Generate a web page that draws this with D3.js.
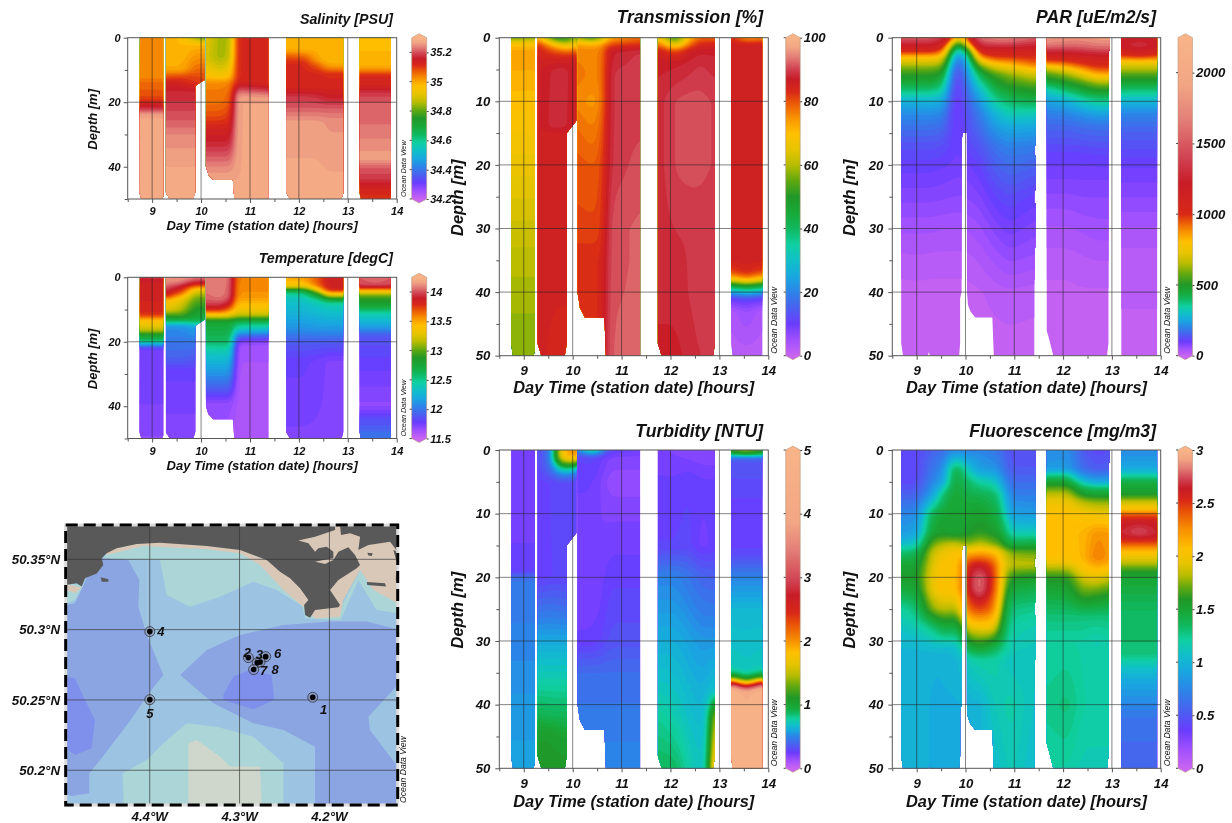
<!DOCTYPE html>
<html>
<head>
<meta charset="utf-8">
<script src="https://cdn.jsdelivr.net/npm/d3@7"></script>
<style>
  html, body { margin: 0; background: #fff; }
  svg { display: block; filter: blur(0.4px); }
  text { font-family: "Liberation Sans", Arial, sans-serif; font-weight: bold; font-style: italic; fill: #111; }
  .odv { font-weight: normal; }
</style>
</head>
<body>
<svg id="chart" width="1232" height="823"></svg>
<script>
// x axis and depth axis
var timeDomain = [8.5, 14];
var timeMajor = [9, 10, 11, 12, 13, 14];
var timeMinor = [8.5, 9.5, 10.5, 11.5, 12.5, 13.5];

// station block times, first group for the CTD plots, second for PAR / fluorescence
var timesA1 = [8.74, 9.23];
var timesA2 = [9.28, 9.6, 9.88, 10.08];
var timesA2t = [9.28, 9.6, 9.7, 9.98, 10.08];
var timesA3 = [10.09, 10.4, 10.62, 10.72, 11.38];
var timesA4 = [11.74, 12.1, 12.4, 12.6, 12.91];
var timesA4t = [11.74, 12.1, 12.4, 12.6, 12.8, 12.87, 12.91];
var timesA5 = [13.24, 13.55, 13.88];
var timesB1 = [8.68, 9.0, 9.3, 9.55, 9.72, 9.85, 10.03, 10.3, 10.6, 10.9, 11.44];
var timesB1f = [8.68, 9.0, 9.3, 9.55, 9.72, 9.85, 10.03, 10.3, 10.6, 10.75, 10.9, 11.44];
var timesB2 = [11.66, 12.1, 12.4, 12.7, 12.96];
var timesB3 = [13.19, 13.55, 13.93];

// coverage outlines [time, depth]
var outlineA1 = [[8.75,0],[9.23,0],[9.23,49],[9.2,50],[8.78,50],[8.74,48]];
var outlineA2 = [[9.28,0],[10.08,0],[10.08,13],[9.98,14],[9.88,15],[9.88,48],[9.84,50],[9.36,50],[9.28,48]];
var outlineA3 = [[10.1,0],[11.38,0],[11.38,50],[10.68,50],[10.65,44],[10.25,44],[10.15,42.5],[10.1,40]];
var outlineA4 = [[11.74,0],[12.91,0],[12.91,48],[12.87,50],[11.82,50],[11.74,48]];
var outlineA5 = [[13.24,0],[13.88,0],[13.88,50],[13.27,50],[13.24,48]];
var outlineB1 = [[8.68,0],[11.44,0],[11.44,17],[11.41,17],[11.41,18.5],[11.44,18.5],[11.44,24],[11.41,24],[11.41,26],[11.44,26],[11.44,33],[11.42,33],[11.42,38],[11.41,38],[11.41,50],[10.58,50],[10.55,44],[10.2,44],[10.1,43],[10.05,42],[10.03,40],[10.03,15],[9.95,15],[9.92,16],[9.92,40],[9.89,41],[9.89,48],[9.87,50],[9.27,50],[9.25,49.4],[9.23,50],[8.72,50],[8.68,48]];
var outlineB2 = [[11.66,0],[12.96,0],[12.96,2],[12.93,2],[12.93,48],[12.9,50],[11.8,50],[11.7,47],[11.66,46]];
var outlineB3 = [[13.19,0],[13.93,0],[13.93,50],[13.19,50]];

// every row is [depth, value per time of the block]
var salinity1 = [[0,35.03,35.03],[12,35.03,35.03],[14,35.06,35.06],[18,35.08,35.08],[20,35.12,35.12],[22,35.18,35.18],[24,35.27,35.27],[50,35.27,35.27]];
var salinity2 = [[0,34.98,34.98,34.84,34.78],[2,34.98,34.98,34.98,34.98],[6,34.98,34.98,35.02,35.02],[10,35,35,35.06,35.06],[12,35.08,35.09,35.09,35.08],[14,35.14,35.13,35.1,35.09],[16,35.16,35.16,35.16,35.16],[20,35.18,35.18,35.18,35.18],[26,35.21,35.21,35.21,35.21],[30,35.24,35.24,35.24,35.24],[36,35.26,35.26,35.26,35.26],[40,35.27,35.27,35.27,35.27],[50,35.27,35.27,35.27,35.27]];
var salinity3 = [[0,34.92,34.84,34.86,35.12,35.12],[6,34.9,34.84,34.88,35.12,35.12],[10,34.94,34.9,34.94,35.12,35.12],[12,34.97,34.95,34.97,35.12,35.12],[14,35.03,35.03,35.04,35.13,35.12],[16,35.04,35.04,35.05,35.2,35.17],[18,35.05,35.05,35.06,35.26,35.25],[20,35.05,35.05,35.07,35.27,35.27],[24,35.08,35.08,35.1,35.27,35.27],[28,35.13,35.13,35.13,35.27,35.27],[32,35.16,35.16,35.16,35.27,35.27],[36,35.2,35.2,35.2,35.27,35.27],[40,35.24,35.24,35.24,35.27,35.27],[44,35.27,35.27,35.27,35.27,35.27],[50,35.27,35.27,35.27,35.27,35.27]];
var salinity4 = [[0,34.98,34.98,34.98,34.98,34.98],[4,34.99,34.99,34.99,34.98,34.98],[5,35.05,35.04,34.99,34.98,34.98],[7,35.1,35.1,35,34.98,34.98],[8,35.12,35.12,35.05,34.99,34.99],[9.5,35.12,35.12,35.09,35.03,35.03],[11,35.12,35.12,35.12,35.11,35.11],[16,35.13,35.13,35.13,35.13,35.13],[18,35.18,35.18,35.17,35.15,35.15],[22,35.21,35.21,35.21,35.21,35.21],[26,35.26,35.26,35.26,35.25,35.25],[50,35.28,35.28,35.28,35.28,35.28]];
var salinity5 = [[0,34.97,34.97,34.97],[9,34.99,34.99,34.99],[10.5,35.05,35.05,35.05],[11.5,35.12,35.12,35.12],[15,35.13,35.13,35.13],[17,35.18,35.18,35.18],[20,35.21,35.21,35.21],[30,35.23,35.23,35.23],[33,35.25,35.25,35.25],[38,35.26,35.26,35.26],[40,35.21,35.21,35.21],[44,35.18,35.18,35.18],[46,35.14,35.14,35.14],[48,35.12,35.12,35.12],[50,35.11,35.11,35.11]];

var temperature1 = [[0,13.93,13.93],[2,13.85,13.85],[10,13.82,13.82],[12,13.75,13.75],[13,13.45,13.45],[15,13.3,13.3],[17,13.1,13.1],[18,12.75,12.75],[19.5,12.65,12.65],[20.5,12.3,12.3],[21,12.1,12.1],[22,11.75,11.75],[47,11.72,11.72],[50,11.68,11.68]];
var temperature2 = [[0,14.15,14.15,14.1,14.1],[2,14.1,14.05,13.85,13.85],[3,14.02,13.85,13.6,13.6],[4,13.95,13.82,13.3,13.3],[6,13.8,13.45,13.05,13.05],[7,13.45,13.3,13,13],[10,13.3,13.15,12.85,12.85],[12,12.9,12.95,12.75,12.75],[14,12.55,12.5,12.6,12.6],[15,12.1,12.1,12.2,12.2],[20,12,12,12,12],[25,11.92,11.92,11.9,11.9],[29,11.78,11.78,11.78,11.78],[50,11.7,11.7,11.7,11.7]];
var temperature3 = [[0,14.08,14.1,14.05,13.6,13.6],[6,14.05,14.08,14.02,13.55,13.55],[8,13.98,14,13.88,13.45,13.45],[10,13.82,13.82,13.6,13.35,13.35],[11,13.55,13.55,13.4,13.25,13.25],[12,13.3,13.3,13.25,13.15,13.15],[13,12.95,12.95,12.95,12.85,12.85],[14,12.75,12.75,12.75,12.6,12.6],[16,12.7,12.7,12.7,12.4,12.35],[18,12.65,12.65,12.65,12,11.95],[20,12.6,12.6,12.6,11.7,11.68],[22,12.45,12.45,12.45,11.62,11.62],[25,12.3,12.3,12.3,11.62,11.62],[30,12.1,12.1,12.1,11.6,11.6],[35,11.88,11.88,11.88,11.6,11.6],[39,11.68,11.68,11.68,11.6,11.6],[50,11.62,11.62,11.62,11.58,11.58]];
var temperature4 = [[0,13.5,13.55,13.7,13.85,13.85],[2,13.4,13.4,13.7,13.85,13.85],[3,13.35,13.3,13.6,13.85,13.85],[4,12.7,12.7,13.3,13.85,13.85],[5,12.5,12.55,12.95,13.4,13.4],[6,12.38,12.4,12.7,13.1,13.1],[7,12.35,12.35,12.5,12.75,12.75],[8,12.33,12.33,12.38,12.45,12.45],[12,12.22,12.22,12.25,12.28,12.28],[16,12.1,12.1,12.12,12.12,12.12],[20,11.9,11.9,11.9,11.9,11.9],[26,11.78,11.78,11.75,11.72,11.72],[50,11.72,11.72,11.72,11.72,11.72]];
var temperature5 = [[0,14.02,14.08,14.02],[3,13.98,13.98,13.98],[3.5,13.7,13.7,13.7],[4,13.45,13.45,13.45],[5,13.2,13.2,13.2],[6,12.95,12.95,12.95],[9,12.75,12.75,12.75],[11,12.45,12.45,12.45],[14,12.25,12.25,12.25],[16,12.1,12.1,12.1],[18,11.88,11.88,11.88],[25,11.8,11.8,11.8],[40,11.68,11.68,11.68],[44,11.85,11.85,11.85],[47,11.9,11.9,11.9],[48,11.98,11.98,11.98],[50,12,12,12]];

var transmission1 = [[0,52,55],[0.7,68,68],[2,73,73],[6,72,72],[10,70,70],[20,66,66],[30,62,62],[40,59,59],[50,57,57]];
var transmission2 = [[0,72,48,48,58],[1,84,70,60,70],[2,85,80,76,78],[3,85,84,84,85],[5,85.5,88,88.5,85],[14,85.5,88.5,88,85],[15,85.5,85.5,85.5,85.5],[50,85,84.5,84.5,84.5]];
var transmission3 = [[0,58,48,58,72,78],[1,74,72,74,80,82],[2,76,76,76,87,89],[6,77,76,76,89,90],[10,76,74,76,89,90],[14,78,76,78,89,90],[20,80,79,80,89,91],[30,81,81,81,91,92],[35,83,83,83,91,92],[50,83,83,83,92,92]];
var transmission4 = [[0,70,48,72,78,78],[1,78,60,78,84,84],[2,86,80,86,87,87],[4,87,87,88,89,88],[10,88,90.5,91,91,90],[20,88,90.5,91,91,90],[30,88,89,89,89,89],[40,88,88,89,90,89],[50,87,87,88,89,89]];
var transmission5 = [[0,84,72,75],[1,85.5,86,86],[10,85.5,85.5,85.5],[35,85.5,85.5,85.5],[37,80,84,80],[38,66,74,66],[39,45,50,45],[40,24,30,24],[41,10,12,10],[43,3,6,3],[50,2,2,2]];

var turbidity1 = [[0,0.22,0.22],[19,0.25,0.25],[20,0.45,0.45],[30,0.5,0.5],[40,0.55,0.55],[50,0.58,0.58]];
var turbidity2 = [[0,0.28,0.5,1.6,2.05,1.95],[1,0.28,0.5,1.6,2.05,1.9],[1.8,0.28,0.5,1.3,1.6,1.3],[2.5,0.28,0.45,0.9,1.05,0.8],[3.5,0.28,0.4,0.6,0.6,0.45],[5,0.26,0.28,0.3,0.3,0.28],[20,0.26,0.28,0.28,0.28,0.28],[24,0.4,0.42,0.4,0.4,0.4],[30,0.6,0.6,0.6,0.6,0.6],[36,0.75,0.75,0.75,0.75,0.75],[42,0.92,0.9,0.9,0.9,0.9],[45,1.05,1.05,1,1,1],[50,1.1,1.1,1.1,1.1,1.1]];
var turbidity3 = [[0,0.5,1,0.6,0.3,0.25],[1,0.28,0.3,0.25,0.2,0.2],[5,0.25,0.25,0.2,0.15,0.15],[10,0.23,0.23,0.2,0.2,0.2],[25,0.23,0.23,0.24,0.3,0.3],[30,0.25,0.25,0.28,0.33,0.33],[35,0.42,0.42,0.42,0.42,0.42],[44,0.48,0.48,0.48,0.48,0.48],[50,0.5,0.5,0.5,0.5,0.5]];
var turbidity4 = [[0,0.22,0.2,0.18,0.17,0.17,0.17,0.17],[5,0.25,0.25,0.28,0.25,0.25,0.25,0.25],[15,0.28,0.28,0.3,0.22,0.25,0.25,0.25],[20,0.5,0.5,0.45,0.4,0.38,0.38,0.38],[30,0.62,0.62,0.58,0.55,0.55,0.55,0.55],[38,0.72,0.7,0.65,0.62,0.65,0.7,0.7],[42,0.8,0.75,0.68,0.65,0.68,1.3,1.8],[50,0.88,0.88,0.75,0.7,0.7,1.8,2.6]];
var turbidity5 = [[0,1.2,1.6,1.2],[0.7,0.9,0.95,0.9],[1.2,0.35,0.35,0.35],[10,0.25,0.25,0.25],[16,0.28,0.28,0.28],[20,0.5,0.5,0.5],[25,0.65,0.65,0.65],[34,0.72,0.7,0.72],[35,0.85,0.72,0.85],[35.8,1.3,0.9,1.3],[36.5,2.4,1.4,2.4],[37.2,3.8,2.4,3.8],[38,5,4,5],[50,5,5,5]];

var par1 = [[0,1500,1500,1500,1350,950,700,950,1600,1700,1700,1500],[1,1250,1250,1250,1100,650,430,700,1350,1400,1400,1300],[2,1050,1050,1050,950,430,270,420,1100,1100,1100,1100],[3,800,800,800,780,290,190,280,900,1000,1000,1000],[4,680,680,680,650,220,150,240,680,800,850,950],[5,570,570,570,540,180,120,220,500,650,700,800],[6,500,500,500,470,160,100,200,420,520,600,680],[8,400,400,400,360,130,85,170,300,430,480,520],[10,270,270,270,260,120,80,150,230,350,400,420],[12,210,210,210,205,110,75,135,190,270,330,320],[14,175,175,175,170,110,80,125,170,230,260,250],[17,130,130,130,125,105,95,115,135,180,200,190],[20,105,105,105,100,95,90,95,110,150,170,155],[25,75,75,75,72,70,68,70,80,110,125,105],[30,45,45,45,42,42,42,42,52,75,92,75],[35,22,25,22,22,22,22,22,30,45,58,50],[40,8,8,8,8,8,8,8,12,20,25,20],[50,4,4,4,4,4,4,4,4,4,4,4]];
var par2 = [[0,1900,1800,1800,1900,1900],[1,1700,1600,1600,1700,1700],[2,1300,1300,1350,1400,1400],[3,1080,1080,1100,1150,1150],[4,900,950,1020,1050,1050],[5,650,750,850,950,950],[6,520,600,700,800,800],[7,440,500,560,650,650],[8,340,420,470,520,520],[9,280,340,400,430,430],[10,240,270,320,360,360],[12,190,200,220,240,240],[14,160,160,170,175,175],[18,110,110,110,115,115],[22,85,85,85,85,85],[26,60,60,65,65,65],[30,40,40,45,50,50],[35,20,20,25,28,28],[40,10,10,12,12,12],[50,4,4,4,4,4]];
var par3 = [[0,1100,1150,1100],[1,1250,1350,1250],[2,1100,1200,1100],[3,950,980,950],[4,720,720,720],[5,650,650,650],[6,530,530,530],[8,400,400,400],[10,280,280,280],[12,200,200,200],[15,150,150,150],[20,100,100,100],[25,70,70,70],[30,40,40,40],[35,20,20,20],[50,8,8,8]];

var fluorescence1 = [[0,0.4,0.4,0.55,0.6,0.75,0.75,0.7,0.75,0.65,0.6,0.45,0.45],[3,0.4,0.4,0.65,0.75,1.4,1.42,1.15,0.85,0.85,0.7,0.5,0.5],[5,0.42,0.42,0.72,0.9,1.45,1.45,1.35,1.2,1.15,0.9,0.6,0.6],[7,0.55,0.55,0.85,1.35,1.48,1.48,1.42,1.4,1.35,1.2,0.7,0.7],[10,0.75,0.75,1.4,1.5,1.5,1.5,1.5,1.55,1.45,1.35,0.9,0.85],[13,0.85,0.9,1.52,1.55,1.5,1.5,1.55,1.62,1.55,1.5,1.15,1.15],[15,1.1,1.15,1.75,1.85,1.9,1.9,1.75,1.9,1.75,1.7,1.45,1.5],[16,1.3,1.35,1.85,1.95,2,2,2.1,2.15,2.1,1.9,1.75,1.7],[18,1.5,1.5,1.9,2.05,2.05,2.05,2.55,2.65,2.45,1.95,1.85,1.85],[20,1.55,1.55,1.95,2.05,2.05,2.05,2.6,2.85,2.5,1.95,1.6,1.55],[22,1.45,1.48,1.95,2.05,2.05,2.05,2.6,2.85,2.45,1.9,1.45,1.4],[25,1.2,1.3,1.75,1.85,1.8,1.8,2.35,2.5,2.3,1.7,1.28,1.25],[28,1.1,1.15,1.25,1.45,1.4,1.4,1.9,1.95,1.95,1.5,1.2,1.15],[31,1.02,1.02,1.05,1.05,1.05,1.05,1.45,1.55,1.4,1.3,1.15,1.12],[33,1,1,0.98,0.98,1,1,1.15,1.2,1.2,1.15,1.1,1.1],[40,1,1,0.97,0.97,0.97,0.97,0.98,1,1.15,1.15,1.2,1.08],[50,1,1,0.97,0.97,0.97,0.97,0.98,1,1.05,1.1,1.15,1.05]];
var fluorescence2 = [[0,0.75,0.8,0.5,0.4,0.45],[3,0.85,0.85,0.6,0.5,0.55],[4,1.3,1.3,0.8,0.7,0.75],[5,1.5,1.5,1.1,0.9,0.95],[6,1.7,1.7,1.4,1.35,1.4],[7,1.85,1.85,1.55,1.5,1.5],[8,1.95,1.95,1.8,1.75,1.75],[10,2.05,2.05,2,1.95,1.95],[13,2.1,2.1,2.1,2.25,2.2],[17,2.05,2.05,2.1,2.35,2.2],[19,1.75,1.75,2,2.05,2],[20,1.6,1.6,1.9,1.95,1.85],[23,1.45,1.45,1.65,1.6,1.55],[26,1.3,1.3,1.3,1.3,1.3],[30,1.2,1.2,1.2,1.15,1.2],[40,1.25,1.3,1.2,1.2,1.2],[50,1.2,1.2,1.15,1.15,1.15]];
var fluorescence3 = [[0,0.75,0.75,0.75],[3,0.95,0.95,0.95],[4,1.2,1.2,1.2],[5,1.45,1.45,1.45],[6,1.5,1.5,1.5],[7,1.55,1.55,1.55],[8,1.85,1.85,1.85],[9.5,2.05,2.05,2.05],[10,2.4,2.4,2.4],[11,2.6,2.6,2.6],[13,2.65,2.78,2.65],[14,2.6,2.6,2.6],[15,2.35,2.35,2.35],[16,2.05,2.05,2.05],[18,1.8,1.8,1.8],[19,1.6,1.6,1.6],[20,1.5,1.5,1.5],[25,1.35,1.35,1.35],[32,1.3,1.3,1.3],[34,1.1,1.1,1.1],[37,0.9,0.9,0.9],[42,0.65,0.65,0.65],[50,0.55,0.55,0.55]];

// ODV style palette
var paletteStops = [0, 0.05, 0.1, 0.15, 0.2, 0.25, 0.3, 0.35, 0.4, 0.45, 0.5, 0.55, 0.6, 0.65, 0.7, 0.75, 0.8, 0.83, 0.87, 0.9, 0.94, 0.97, 1];
var paletteColors = ["#c864f0", "#a050ff", "#6a3cff", "#4a60f0", "#2c84e8", "#18a8e0", "#10c0c8", "#10d0a0", "#10b860", "#18a838", "#209828", "#60a810", "#b8bc00", "#e8c400", "#ffc000", "#f89000", "#e85008", "#d82818", "#c81c28", "#d04050", "#e37f78", "#f2a684", "#f8b488"];

// map values
var landMain = [[-4.4935,50.3744],[-4.1937,50.3744],[-4.1937,50.3708],[-4.2160,50.3661],[-4.2345,50.3633],[-4.2234,50.3614],[-4.2160,50.3554],[-4.2123,50.3578],[-4.2030,50.3590],[-4.1956,50.3554],[-4.1956,50.3507],[-4.2067,50.3495],[-4.2160,50.3483],[-4.2049,50.3467],[-4.1956,50.3495],[-4.1900,50.3554],[-4.1789,50.3585],[-4.1715,50.3531],[-4.1659,50.3460],[-4.1696,50.3436],[-4.1900,50.3353],[-4.1993,50.3282],[-4.1882,50.3175],[-4.1900,50.3159],[-4.2160,50.3140],[-4.2216,50.3085],[-4.2271,50.3104],[-4.2282,50.3175],[-4.2234,50.3211],[-4.2327,50.3294],[-4.2438,50.3365],[-4.2550,50.3412],[-4.2698,50.3495],[-4.2995,50.3566],[-4.3366,50.3595],[-4.3885,50.3618],[-4.4145,50.3609],[-4.4367,50.3578],[-4.4479,50.3543],[-4.4534,50.3507],[-4.4516,50.3460],[-4.4590,50.3400],[-4.4720,50.3365],[-4.4757,50.3306],[-4.4813,50.3329],[-4.4935,50.3317]];
var landEast = [[-4.1882,50.3744],[-4.1871,50.3673],[-4.1770,50.3685],[-4.1659,50.3661],[-4.1678,50.3566],[-4.1566,50.3602],[-4.1325,50.3625],[-4.1240,50.3554],[-4.1240,50.3744]];
var islet1 = [[-4.1578,50.3547],[-4.1518,50.3543],[-4.1529,50.3524],[-4.1566,50.3528]];
var islet2 = [[-4.1585,50.3339],[-4.1381,50.3329],[-4.1370,50.3306],[-4.1578,50.3317]];
var islet3 = [[-4.1251,50.3471],[-4.1240,50.3471],[-4.1240,50.3341],[-4.1262,50.3353]];
var islet4 = [[-4.1288,50.3566],[-4.1240,50.3554],[-4.1240,50.3483],[-4.1258,50.3495]];
var islet5 = [[-4.4545,50.3372],[-4.4460,50.3358],[-4.4460,50.3341],[-4.4534,50.3341]];
var seaBlueWest = [[-4.4935,50.3175],[-4.4831,50.3187],[-4.4701,50.3365],[-4.4534,50.3507],[-4.4238,50.3495],[-4.4115,50.3353],[-4.4126,50.3163],[-4.4033,50.2962],[-4.3848,50.2677],[-4.3996,50.2559],[-4.4238,50.2334],[-4.4609,50.2026],[-4.4672,50.1978],[-4.4672,50.1836],[-4.4868,50.1817],[-4.4935,50.1830]];
var seaBlueEast = [[-4.3662,50.2677],[-4.3366,50.2855],[-4.2995,50.2962],[-4.2512,50.3033],[-4.1993,50.3057],[-4.1585,50.3057],[-4.1240,50.3002],[-4.1240,50.2606],[-4.1566,50.2381],[-4.1548,50.2286],[-4.1240,50.2026],[-4.1240,50.1753],[-4.2160,50.1753],[-4.2160,50.2168],[-4.2512,50.2286],[-4.2846,50.2334],[-4.3292,50.2476]];
var seaDeepCentre = [[-4.3180,50.2535],[-4.3069,50.2666],[-4.2883,50.2713],[-4.2642,50.2677],[-4.2616,50.2500],[-4.2846,50.2433],[-4.3180,50.2500]];
var seaDeepWest = [[-4.4935,50.2666],[-4.4831,50.2654],[-4.4720,50.2500],[-4.4609,50.2358],[-4.4646,50.2156],[-4.4831,50.2109],[-4.4935,50.2156]];
var tealNorth = [[-4.4516,50.3507],[-4.3885,50.3495],[-4.3811,50.3246],[-4.3551,50.3163],[-4.3217,50.3234],[-4.2846,50.3341],[-4.2587,50.3282],[-4.2234,50.3140],[-4.2234,50.3300],[-4.2698,50.3614],[-4.3885,50.3700],[-4.4442,50.3600]];
var tealWest = [[-4.4935,50.3329],[-4.4738,50.3317],[-4.4831,50.3211],[-4.4924,50.3187]];
var tealEast = [[-4.1875,50.3069],[-4.1678,50.3353],[-4.1474,50.3140],[-4.1240,50.3116],[-4.1240,50.3211],[-4.1511,50.3282],[-4.1659,50.3424],[-4.1845,50.3187]];
var tealHead = [[-4.2327,50.3234],[-4.2271,50.3080],[-4.1875,50.3069],[-4.1845,50.3187]];
var tealSouth = [[-4.4293,50.1753],[-4.4300,50.1978],[-4.4033,50.2073],[-4.3848,50.2192],[-4.3588,50.2334],[-4.3254,50.2310],[-4.2846,50.2239],[-4.2512,50.2049],[-4.2512,50.1753]];
var sandSouth = [[-4.3570,50.1753],[-4.3570,50.2192],[-4.3477,50.2215],[-4.3217,50.2097],[-4.3106,50.2026],[-4.2772,50.2026],[-4.2754,50.1753]];
var sandCoast = [[-4.4479,50.3531],[-4.4071,50.3595],[-4.3366,50.3571],[-4.2995,50.3543],[-4.2772,50.3460],[-4.2512,50.3282],[-4.2271,50.3152],[-4.2160,50.3080],[-4.1882,50.3092],[-4.1845,50.3211],[-4.1659,50.3424],[-4.1511,50.3282],[-4.1240,50.3187],[-4.1240,50.3744],[-4.4479,50.3744]];
var sandWest = [[-4.4935,50.3324],[-4.4757,50.3300],[-4.4830,50.3260],[-4.4935,50.3282]];

var stationNames = ["1", "2", "3", "4", "5", "6", "7", "8"];
var stationLon = [-4.2186, -4.2902, -4.2802, -4.3999, -4.3999, -4.2709, -4.2843, -4.2772];
var stationLat = [50.2519, 50.2801, 50.2765, 50.2986, 50.2502, 50.2808, 50.2716, 50.2770];
var mapLonTicks = [-4.4, -4.3, -4.2];
var mapLatTicks = [50.2, 50.25, 50.3, 50.35];

var svg = d3.select("#chart");

var palette = d3.scaleLinear().domain(paletteStops).range(paletteColors).clamp(true);

// shade one block: sample the profiles on a fine grid, smooth a little, contour
function blockContours(b, x, y, step, levels) {
	var ts = b.times;
	var ds = b.rows.map(function(r) { return r[0]; });
	var x0 = x(ts[0]), x1 = x(ts[ts.length - 1]), y0 = y(ds[0]), y1 = y(ds[ds.length - 1]);
	var n = Math.ceil((x1 - x0) / step) + 1, m = Math.ceil((y1 - y0) / step) + 1;
	var rowScales = b.rows.map(function(r) {
		return d3.scaleLinear().domain(ts).range(r.slice(1)).clamp(true);
	});
	var values = new Array(n * m);
	for (var i = 0; i < n; i++) {
		var t = x.invert(x0 + (x1 - x0) * i / (n - 1));
		var profile = d3.scaleLinear().domain(ds).range(rowScales.map(function(s) { return s(t); })).clamp(true);
		for (var j = 0; j < m; j++) {
			values[j * n + i] = profile(y.invert(y0 + (y1 - y0) * j / (m - 1)));
		}
	}
	if (d3.blur2) d3.blur2({ data: values, width: n, height: m }, 1.6, 0.6);
	var cx = d3.scaleLinear().domain([0.5, n - 0.5]).range([x0, x1]).clamp(true);
	var cy = d3.scaleLinear().domain([0.5, m - 0.5]).range([y0, y1]).clamp(true);
	return {
		contours: d3.contours().size([n, m]).thresholds(levels)(values),
		path: d3.geoPath(d3.geoTransform({
			point: function(px, py) { this.stream.point(cx(px), cy(py)); }
		}))
	};
}

var panelIndex = 0;
function drawPanel(cfg) {
	panelIndex++;
	var x = d3.scaleLinear().domain(timeDomain).range([cfg.left, cfg.right]);
	var y = d3.scaleLinear().domain([0, 50]).range([cfg.top, cfg.bottom]);
	var toF = d3.scaleLinear().domain(cfg.colorValues).range(cfg.colorPos).clamp(true);
	var g = svg.append("g");
	var bands = d3.range(0, 72);
	var levels = bands.map(function(k) { return toF.invert(k / 72); });
	var colors = bands.map(function(k) { return palette((k + 0.5) / 72); });

	cfg.blocks.forEach(function(b, bi) {
		var clipId = "clip" + panelIndex + "_" + bi;
		g.append("clipPath").attr("id", clipId).append("path")
			.attr("d", d3.line().x(function(d) { return x(d[0]); }).y(function(d) { return y(d[1]); })(b.outline) + "Z");
		var shaded = blockContours(b, x, y, cfg.gridStep, levels);
		g.append("g").attr("clip-path", "url(#" + clipId + ")")
			.selectAll("path").data(shaded.contours).join("path")
			.attr("d", shaded.path)
			.attr("fill", function(d, i) { return colors[i]; });
	});

	// grid over the field
	g.append("g").selectAll("line").data(cfg.depthMajor.slice(1, -1)).join("line")
		.attr("x1", cfg.left).attr("x2", cfg.right)
		.attr("y1", y).attr("y2", y)
		.attr("stroke", "#222").attr("stroke-opacity", 0.7).attr("stroke-width", 0.8);
	g.append("g").selectAll("line").data(timeMajor.slice(0, -1)).join("line")
		.attr("x1", x).attr("x2", x)
		.attr("y1", cfg.top).attr("y2", cfg.bottom)
		.attr("stroke", "#222").attr("stroke-opacity", 0.7).attr("stroke-width", 0.8);

	g.append("rect").attr("x", cfg.left).attr("y", cfg.top)
		.attr("width", cfg.right - cfg.left).attr("height", cfg.bottom - cfg.top)
		.attr("fill", "none").attr("stroke", "#555").attr("stroke-width", 1);

	// axes
	var xAxis = g.append("g").attr("transform", "translate(0," + cfg.bottom + ")")
		.call(d3.axisBottom(x).tickValues(timeMajor).tickSize(4).tickPadding(cfg.tickPadX).tickFormat(d3.format("d")));
	g.append("g").attr("transform", "translate(0," + cfg.bottom + ")")
		.call(d3.axisBottom(x).tickValues(timeMinor).tickSize(3).tickFormat(""));
	var yAxis = g.append("g").attr("transform", "translate(" + cfg.left + ",0)")
		.call(d3.axisLeft(y).tickValues(cfg.depthMajor).tickSize(4).tickPadding(cfg.tickPadY).tickFormat(d3.format("d")));
	g.append("g").attr("transform", "translate(" + cfg.left + ",0)")
		.call(d3.axisLeft(y).tickValues(cfg.depthMinor).tickSize(3).tickFormat(""));
	g.selectAll(".domain").remove();
	g.selectAll(".tick line").attr("stroke", "#555");
	xAxis.selectAll("text").style("font-size", cfg.tickSize + "px").attr("font-family", null);
	yAxis.selectAll("text").style("font-size", cfg.tickSize + "px").attr("font-family", null);

	g.append("text").attr("x", cfg.titleX).attr("y", cfg.titleY).attr("text-anchor", "end")
		.style("font-size", cfg.titleSize + "px").text(cfg.title);
	g.append("text").attr("x", (cfg.left + cfg.right) / 2).attr("y", cfg.xTitleY).attr("text-anchor", "middle")
		.style("font-size", cfg.axisSize + "px").text("Day Time (station date) [hours]");
	g.append("text").attr("transform", "translate(" + cfg.yTitleX + "," + ((cfg.top + cfg.bottom) / 2 + 1) + ") rotate(-90)")
		.attr("text-anchor", "middle").style("font-size", cfg.axisSize + "px").text("Depth [m]");
	g.append("text").attr("class", "odv")
		.attr("transform", "translate(" + (cfg.right + cfg.odvOffset) + "," + (cfg.bottom - 2) + ") rotate(-90)")
		.style("font-size", cfg.odvSize + "px").text("Ocean Data View");

	// colour bar
	var barY = d3.scaleLinear().domain(cfg.barDomain).range([cfg.bottom, cfg.top]);
	var gradId = "grad" + panelIndex;
	var grad = g.append("linearGradient").attr("id", gradId)
		.attr("gradientUnits", "userSpaceOnUse")
		.attr("x1", 0).attr("x2", 0).attr("y1", cfg.bottom).attr("y2", cfg.top);
	grad.selectAll("stop").data(paletteStops).join("stop")
		.attr("offset", function(f) { return (barY(toF.invert(f)) - cfg.bottom) / (cfg.top - cfg.bottom); })
		.attr("stop-color", function(f) { return palette(f); });
	var bx0 = cfg.barX, bx1 = cfg.barX + cfg.barW, bm = (bx0 + bx1) / 2;
	g.append("path")
		.attr("d", "M" + bx0 + "," + cfg.top + "L" + bm + "," + (cfg.top - 4) + "L" + bx1 + "," + cfg.top +
			"L" + bx1 + "," + cfg.bottom + "L" + bm + "," + (cfg.bottom + 4) + "L" + bx0 + "," + cfg.bottom + "Z")
		.attr("fill", "url(#" + gradId + ")").attr("stroke", "#b89a80").attr("stroke-width", 0.6);
	var barAxis = g.append("g").attr("transform", "translate(" + bx1 + ",0)")
		.call(d3.axisRight(barY).tickValues(cfg.barTicks).tickSize(2).tickPadding(1.5).tickFormat(function(d) { return d; }));
	barAxis.select(".domain").remove();
	barAxis.selectAll("line").attr("stroke", "#444");
	barAxis.selectAll("text").style("font-size", cfg.tickSize + "px").attr("font-family", null);
	g.append("g").selectAll("line").data(cfg.barTicks).join("line")
		.attr("x1", bx0 - 2).attr("x2", bx0)
		.attr("y1", barY).attr("y2", barY).attr("stroke", "#444");
}

var small = { tickPadX: 4.5, tickPadY: 3, tickSize: 11, titleSize: 14.2, axisSize: 13, odvSize: 7.3, odvOffset: 9, barW: 15, gridStep: 1.5,
	depthMajor: [0, 20, 40], depthMinor: [10, 30, 50] };
var large = { tickPadX: 6, tickPadY: 5, tickSize: 13.2, titleSize: 17.6, axisSize: 16.4, odvSize: 8.6, odvOffset: 9, barW: 14.5, gridStep: 2,
	depthMajor: [0, 10, 20, 30, 40, 50], depthMinor: [5, 15, 25, 35, 45] };

drawPanel(Object.assign({}, small, {
	title: "Salinity [PSU]", left: 127.7, right: 396.7, top: 37.7, bottom: 199,
	titleX: 393, titleY: 24, xTitleY: 230, yTitleX: 97, barX: 411.7,
	colorValues: [34.2, 35.3], colorPos: [0, 1], barDomain: [34.2, 35.3], barTicks: [34.2, 34.4, 34.6, 34.8, 35, 35.2],
	blocks: [
		{ times: timesA1, rows: salinity1, outline: outlineA1 },
		{ times: timesA2, rows: salinity2, outline: outlineA2 },
		{ times: timesA3, rows: salinity3, outline: outlineA3 },
		{ times: timesA4, rows: salinity4, outline: outlineA4 },
		{ times: timesA5, rows: salinity5, outline: outlineA5 }
	]
}));
drawPanel(Object.assign({}, small, {
	title: "Temperature [degC]", left: 127.7, right: 396.7, top: 277.3, bottom: 438.5,
	titleX: 393, titleY: 263, xTitleY: 470, yTitleX: 97, barX: 411.7,
	colorValues: [11.5, 14.25], colorPos: [0, 1], barDomain: [11.5, 14.25], barTicks: [11.5, 12, 12.5, 13, 13.5, 14],
	blocks: [
		{ times: timesA1, rows: temperature1, outline: outlineA1 },
		{ times: timesA2, rows: temperature2, outline: outlineA2 },
		{ times: timesA3, rows: temperature3, outline: outlineA3 },
		{ times: timesA4, rows: temperature4, outline: outlineA4 },
		{ times: timesA5, rows: temperature5, outline: outlineA5 }
	]
}));
drawPanel(Object.assign({}, large, {
	title: "Transmission [%]", left: 499.3, right: 768.3, top: 37.7, bottom: 355.7,
	titleX: 763, titleY: 23, xTitleY: 393, yTitleX: 463, barX: 785.7,
	colorValues: [0, 100], colorPos: [0, 1], barDomain: [0, 100], barTicks: [0, 20, 40, 60, 80, 100],
	blocks: [
		{ times: timesA1, rows: transmission1, outline: outlineA1 },
		{ times: timesA2, rows: transmission2, outline: outlineA2 },
		{ times: timesA3, rows: transmission3, outline: outlineA3 },
		{ times: timesA4, rows: transmission4, outline: outlineA4 },
		{ times: timesA5, rows: transmission5, outline: outlineA5 }
	]
}));
drawPanel(Object.assign({}, large, {
	title: "PAR [uE/m2/s]", left: 892.3, right: 1160.7, top: 37.7, bottom: 355.7,
	titleX: 1156, titleY: 23, xTitleY: 393, yTitleX: 855, barX: 1178,
	colorValues: [0, 500, 1000, 1500, 2000, 2247], colorPos: [0, 0.5, 0.83, 0.92, 0.98, 1],
	barDomain: [0, 2247], barTicks: [0, 500, 1000, 1500, 2000],
	blocks: [
		{ times: timesB1, rows: par1, outline: outlineB1 },
		{ times: timesB2, rows: par2, outline: outlineB2 },
		{ times: timesB3, rows: par3, outline: outlineB3 }
	]
}));
drawPanel(Object.assign({}, large, {
	title: "Turbidity [NTU]", left: 499.3, right: 768.3, top: 450, bottom: 768.3,
	titleX: 763, titleY: 437, xTitleY: 807, yTitleX: 463, barX: 785.7,
	colorValues: [0, 0.5, 1, 2, 2.5, 3, 4, 5], colorPos: [0, 0.2, 0.47, 0.75, 0.84, 0.91, 0.98, 1],
	barDomain: [0, 5], barTicks: [0, 1, 2, 3, 4, 5],
	blocks: [
		{ times: timesA1, rows: turbidity1, outline: outlineA1 },
		{ times: timesA2t, rows: turbidity2, outline: outlineA2 },
		{ times: timesA3, rows: turbidity3, outline: outlineA3 },
		{ times: timesA4t, rows: turbidity4, outline: outlineA4 },
		{ times: timesA5, rows: turbidity5, outline: outlineA5 }
	]
}));
drawPanel(Object.assign({}, large, {
	title: "Fluorescence [mg/m3]", left: 892.3, right: 1160.7, top: 450, bottom: 768.3,
	titleX: 1156, titleY: 437, xTitleY: 807, yTitleX: 855, barX: 1178,
	colorValues: [0, 0.5, 1, 1.5, 2, 2.5, 3], colorPos: [0, 0.14, 0.27, 0.46, 0.68, 0.82, 1],
	barDomain: [0, 3], barTicks: [0, 0.5, 1, 1.5, 2, 2.5, 3],
	blocks: [
		{ times: timesB1f, rows: fluorescence1, outline: outlineB1 },
		{ times: timesB2, rows: fluorescence2, outline: outlineB2 },
		{ times: timesB3, rows: fluorescence3, outline: outlineB3 }
	]
}));

// station map
var lon = d3.scaleLinear().domain([-4.4935, -4.124]).range([65.7, 397.7]);
var lat = d3.scaleLinear().domain([50.1753, 50.3744]).range([805, 525]);
var ring = d3.line().x(function(d) { return lon(d[0]); }).y(function(d) { return lat(d[1]); });
var map = svg.append("g");
map.append("clipPath").attr("id", "mapClip").append("rect")
	.attr("x", lon(-4.4935)).attr("y", lat(50.3744))
	.attr("width", lon(-4.124) - lon(-4.4935)).attr("height", lat(50.1753) - lat(50.3744));
var mapBody = map.append("g").attr("clip-path", "url(#mapClip)");
mapBody.append("rect").attr("x", lon(-4.4935)).attr("y", lat(50.3744))
	.attr("width", lon(-4.124) - lon(-4.4935)).attr("height", lat(50.1753) - lat(50.3744))
	.attr("fill", "#9cc4e2");
var mapLayers = [
	[tealNorth, "#abd5d6"], [tealWest, "#abd5d6"], [tealEast, "#abd5d6"], [tealHead, "#abd5d6"], [tealSouth, "#abd5d6"],
	[sandSouth, "#cfd6cc"], [seaBlueWest, "#8ba5e3"], [seaBlueEast, "#8ba5e3"],
	[seaDeepCentre, "#7f90ec"], [seaDeepWest, "#7f90ec"],
	[sandCoast, "#d9c8b8"], [sandWest, "#d9c8b8"],
	[landMain, "#595959"], [landEast, "#595959"], [islet1, "#595959"], [islet2, "#595959"],
	[islet3, "#595959"], [islet4, "#595959"], [islet5, "#595959"]
];
mapBody.selectAll("path.layer").data(mapLayers).join("path").attr("class", "layer")
	.attr("d", function(d) { return ring(d[0]) + "Z"; })
	.attr("fill", function(d) { return d[1]; });
mapBody.selectAll("line.lonLine").data(mapLonTicks).join("line").attr("class", "lonLine")
	.attr("x1", lon).attr("x2", lon).attr("y1", 525).attr("y2", 805)
	.attr("stroke", "#333").attr("stroke-opacity", 0.75).attr("stroke-width", 0.9);
mapBody.selectAll("line.latLine").data(mapLatTicks).join("line").attr("class", "latLine")
	.attr("x1", 65.7).attr("x2", 397.7).attr("y1", lat).attr("y2", lat)
	.attr("stroke", "#333").attr("stroke-opacity", 0.75).attr("stroke-width", 0.9);

// station marks and number offsets
var labelDx = [11, -1, 2, 11, 0, 12, 10, 15];
var labelDy = [12, -5, -8, 0, 14, -3, 1, 7];
var stations = d3.range(stationNames.length);
map.selectAll("circle.ring").data(stations).join("circle").attr("class", "ring")
	.attr("cx", function(i) { return lon(stationLon[i]); }).attr("cy", function(i) { return lat(stationLat[i]); })
	.attr("r", 5).attr("fill", "#8a8fb0").attr("fill-opacity", 0.5).attr("stroke", "#333").attr("stroke-width", 0.8);
map.selectAll("circle.dot").data(stations).join("circle").attr("class", "dot")
	.attr("cx", function(i) { return lon(stationLon[i]); }).attr("cy", function(i) { return lat(stationLat[i]); })
	.attr("r", 2.8).attr("fill", "#000");
map.selectAll("text.stationLabel").data(stations).join("text").attr("class", "stationLabel")
	.attr("x", function(i) { return lon(stationLon[i]) + labelDx[i]; })
	.attr("y", function(i) { return lat(stationLat[i]) + labelDy[i]; })
	.attr("text-anchor", "middle").attr("dy", "0.36em").style("font-size", "13px")
	.text(function(i) { return stationNames[i]; });

map.append("rect").attr("x", 65.7).attr("y", 525).attr("width", 332).attr("height", 280)
	.attr("fill", "none").attr("stroke", "#ddd").attr("stroke-width", 3);
map.append("rect").attr("x", 65.7).attr("y", 525).attr("width", 332).attr("height", 280)
	.attr("fill", "none").attr("stroke", "#000").attr("stroke-width", 3).attr("stroke-dasharray", "12,6");

map.selectAll("text.latLabel").data(mapLatTicks).join("text").attr("class", "latLabel")
	.attr("x", 60).attr("y", lat).attr("dy", "0.36em").attr("text-anchor", "end")
	.style("font-size", "13.3px").text(function(d) { return d + "°N"; });
map.selectAll("text.lonLabel").data(mapLonTicks).join("text").attr("class", "lonLabel")
	.attr("x", lon).attr("y", 821).attr("text-anchor", "middle")
	.style("font-size", "13.3px").text(function(d) { return Math.abs(d) + "°W"; });
map.append("text").attr("class", "odv")
	.attr("transform", "translate(406,803) rotate(-90)")
	.style("font-size", "8.6px").text("Ocean Data View");
</script>
</body>
</html>
